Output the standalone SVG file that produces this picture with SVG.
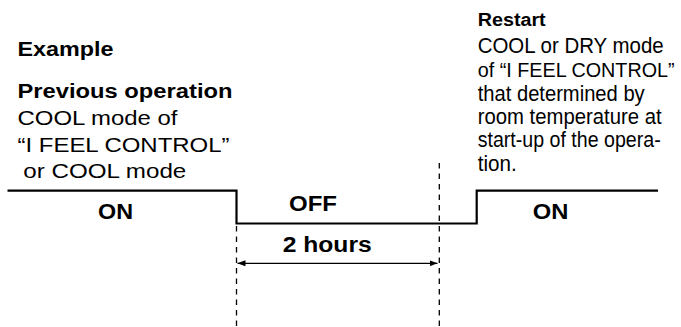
<svg xmlns="http://www.w3.org/2000/svg" width="681" height="327" viewBox="0 0 681 327">
<style>
text{font-family:"Liberation Sans",Arial,sans-serif;fill:#000}
.b{font-weight:bold}
.r{font-size:21.5px}
.rl{font-size:21px}
.sig{fill:none;stroke:#000;stroke-width:2.2}
.dash{fill:none;stroke:#000;stroke-width:1.3;stroke-dasharray:5.5 5}
.arr{fill:none;stroke:#000;stroke-width:1.3}
</style>
<defs>
<marker id="ah" viewBox="0 0 8 6" refX="8" refY="3" markerWidth="8" markerHeight="6" markerUnits="userSpaceOnUse" orient="auto-start-reverse">
<path d="M0,0 L8,3 L0,6 Z" fill="#000"/>
</marker>
</defs>
<g id="connectors">
<path id="signal" class="sig" d="M7.5,190.7 H236.5 V223.5 H476.7 V190.7 H658"/>
<line class="dash" x1="236.5" y1="226" x2="236.5" y2="327"/>
<line class="dash" x1="439.3" y1="163" x2="439.3" y2="327"/>
<line class="arr" x1="237.5" y1="263.3" x2="437.5" y2="263.3" marker-start="url(#ah)" marker-end="url(#ah)"/>
</g>
<g id="previous">
<text class="b" x="17.5" y="56" font-size="20" textLength="96" lengthAdjust="spacingAndGlyphs">Example</text>
<text class="b" x="17.5" y="98" font-size="20" textLength="215" lengthAdjust="spacingAndGlyphs">Previous operation</text>
<text class="rl" x="17.5" y="125" textLength="160" lengthAdjust="spacingAndGlyphs">COOL mode of</text>
<text class="rl" x="17.5" y="151.5" textLength="212" lengthAdjust="spacingAndGlyphs">“I FEEL CONTROL”</text>
<text class="rl" x="23.3" y="178" textLength="163" lengthAdjust="spacingAndGlyphs">or COOL mode</text>
</g>
<g id="restart">
<text class="b" x="477.7" y="26" font-size="18" textLength="68" lengthAdjust="spacingAndGlyphs">Restart</text>
<text class="r" x="477.7" y="52.7" textLength="186" lengthAdjust="spacingAndGlyphs">COOL or DRY mode</text>
<text x="477.7" y="76.5" font-size="19.6" textLength="197" lengthAdjust="spacingAndGlyphs">of “I FEEL CONTROL”</text>
<text class="r" x="477.7" y="100.5" textLength="167" lengthAdjust="spacingAndGlyphs">that determined by</text>
<text class="r" x="477.7" y="124.2" textLength="184" lengthAdjust="spacingAndGlyphs">room temperature at</text>
<text class="r" x="477.7" y="147.4" textLength="183" lengthAdjust="spacingAndGlyphs">start-up of the opera-</text>
<text class="r" x="477.7" y="170.5" textLength="39" lengthAdjust="spacingAndGlyphs">tion.</text>
</g>
<g id="on-left"><text class="b" x="98" y="219" font-size="22" textLength="35" lengthAdjust="spacingAndGlyphs">ON</text></g>
<g id="off"><text class="b" x="289" y="210.7" font-size="22" textLength="48" lengthAdjust="spacingAndGlyphs">OFF</text></g>
<g id="duration"><text class="b" x="282.7" y="252.3" font-size="22" textLength="89" lengthAdjust="spacingAndGlyphs">2 hours</text></g>
<g id="on-right"><text class="b" x="532.7" y="219.3" font-size="22" textLength="35.6" lengthAdjust="spacingAndGlyphs">ON</text></g>
</svg>
